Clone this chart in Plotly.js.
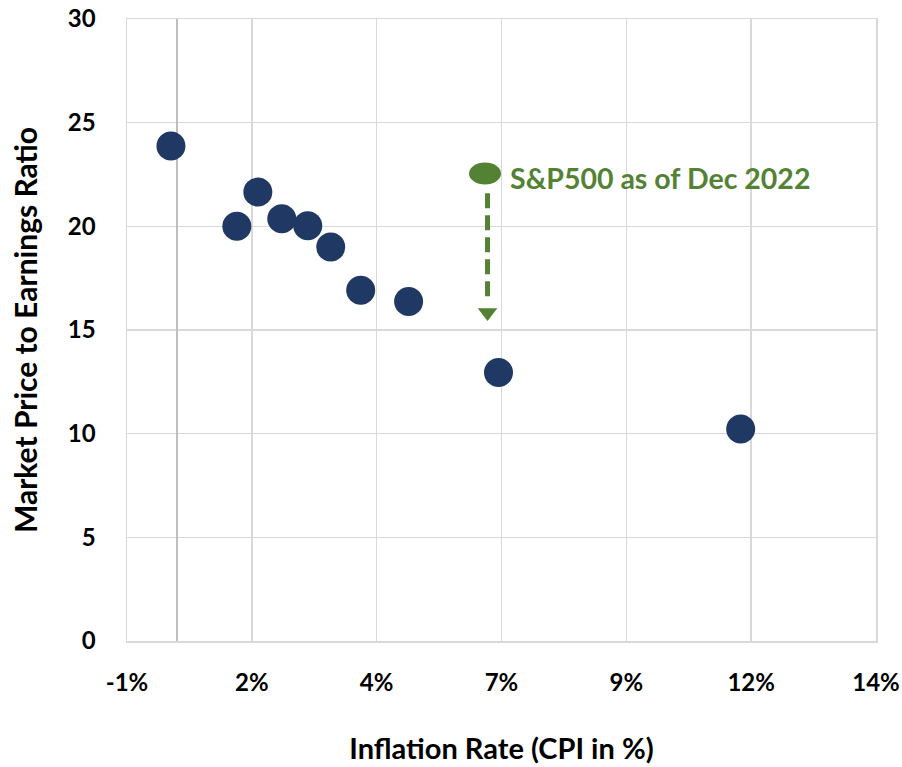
<!DOCTYPE html>
<html>
<head>
<meta charset="utf-8">
<script src="https://cdn.plot.ly/plotly-3.0.1.min.js"></script>
<style>html,body{margin:0;padding:0;background:#fff;}#chart{width:902px;height:767px;}</style>
</head>
<body>
<div id="chart"></div>
<script>
// Data
const inflation = [-0.12, 1.2, 1.62, 2.1, 2.62, 3.08, 3.68, 4.64, 6.44, 11.29];
const peRatio   = [23.87, 20.0, 21.65, 20.37, 20.03, 19.0, 16.92, 16.37, 12.95, 10.22];
const sp500X = 6.17;
const sp500Y = 22.55;
const arrowX = [6.22, 6.22];
const arrowY = [21.6, 16.3];
const arrowTipY = [15.85];
const xTickVals = [-1, 1.5, 4, 6.5, 9, 11.5, 14];
const xTickText = ['-1%', '2%', '4%', '7%', '9%', '12%', '14%'];
const yTickVals = [0, 5, 10, 15, 20, 25, 30];
const labelText = 'S&P500 as of Dec 2022';

const navy = '#1f3864';
const green = '#548235';
const font = 'Lato, Carlito, Calibri, sans-serif';

const traces = [
  {x: inflation, y: peRatio, type: 'scatter', mode: 'markers',
   marker: {color: navy, size: 29}, hoverinfo: 'x+y', showlegend: false},
  {x: arrowX, y: arrowY, type: 'scatter', mode: 'lines',
   line: {color: green, width: 5, dash: '15px,7px'}, showlegend: false, hoverinfo: 'skip'},
  {x: [arrowX[0]], y: arrowTipY, type: 'scatter', mode: 'markers',
   marker: {color: green, symbol: 'triangle-down', size: 17}, showlegend: false, hoverinfo: 'skip'}
];

const layout = {
  width: 902, height: 767,
  margin: {l: 126.5, r: 25.5, t: 19, b: 125.5},
  paper_bgcolor: '#fff', plot_bgcolor: '#fff',
  font: {family: font, color: '#000', size: 24},
  showlegend: false,
  xaxis: {
    range: [-1, 14], tickvals: xTickVals, ticktext: xTickText,
    showgrid: true, gridcolor: '#d9d9d9', gridwidth: 1.5,
    zeroline: true, zerolinecolor: '#bfbfbf', zerolinewidth: 1.5,
    showline: true, mirror: true, linecolor: '#d9d9d9', linewidth: 1.5,
    ticks: 'outside', ticklen: 20, tickcolor: 'rgba(0,0,0,0)',
    tickfont: {family: font, size: 24, color: '#000', weight: 'bold'},
    title: {text: '<b>Inflation Rate (CPI in %)</b>', font: {family: font, size: 29, color: '#000'}, standoff: 43},
    fixedrange: true
  },
  yaxis: {
    range: [0, 30], tickvals: yTickVals,
    showgrid: true, gridcolor: '#d9d9d9', gridwidth: 1.5,
    zeroline: false,
    showline: true, mirror: true, linecolor: '#d9d9d9', linewidth: 1.5,
    ticks: 'outside', ticklen: 25, tickcolor: 'rgba(0,0,0,0)',
    tickfont: {family: font, size: 24, color: '#000', weight: 'bold'},
    title: {text: '<b>Market Price to Earnings Ratio</b>', font: {family: font, size: 30, color: '#000'}, standoff: 21},
    fixedrange: true
  },
  shapes: [
    {type: 'circle', xref: 'x', yref: 'y', xsizemode: 'pixel', ysizemode: 'pixel',
     xanchor: sp500X, yanchor: sp500Y, x0: -16, x1: 16, y0: -11, y1: 11,
     fillcolor: green, line: {width: 0}}
  ],
  annotations: [
    {x: 6.63, y: 22.31, xref: 'x', yref: 'y', text: '<b>' + labelText + '</b>',
     showarrow: false, xanchor: 'left', yanchor: 'middle',
     font: {family: font, size: 28.5, color: green}}
  ]
};

Plotly.newPlot('chart', traces, layout, {displayModeBar: false, staticPlot: true});
</script>
</body>
</html>
